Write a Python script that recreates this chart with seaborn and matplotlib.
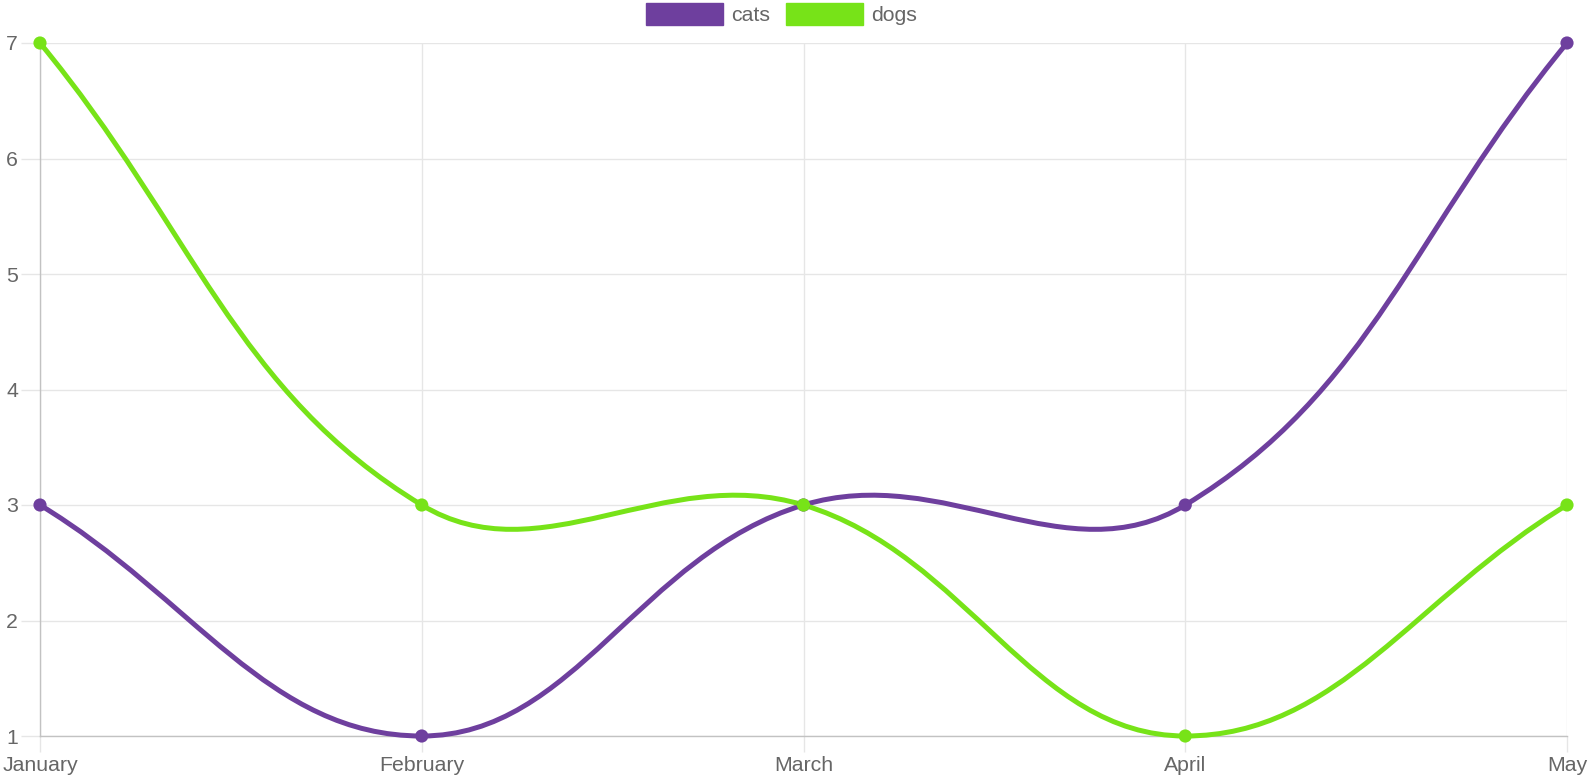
import numpy as np
import pandas as pd
import matplotlib
matplotlib.use("Agg")
import matplotlib.pyplot as plt
import seaborn as sns
from matplotlib.path import Path
from matplotlib.patches import PathPatch, Patch

# chart data
months = ["January", "February", "March", "April", "May"]
cats = [3, 1, 3, 3, 7]
dogs = [7, 3, 3, 1, 3]
y_ticks = [1, 2, 3, 4, 5, 6, 7]

PURPLE = "#6E3F9E"
GREEN = "#77E318"
GRID = "#e6e6e6"
AXIS = "#c2c2c2"
TEXT = "#666666"
TENSION = 0.4

W, H = 1592, 778


def spline_path(ax, xs, ys, tension=TENSION):
    """Bezier path through the points, control points computed in pixel space."""
    pts = ax.transData.transform(np.column_stack([xs, ys]).astype(float))
    bb = ax.bbox
    n = len(pts)
    c_prev, c_next = [], []
    for i in range(n):
        prev = pts[max(i - 1, 0)]
        cur = pts[i]
        nxt = pts[min(i + 1, n - 1)]
        d01 = np.hypot(*(cur - prev))
        d12 = np.hypot(*(nxt - cur))
        tot = d01 + d12
        s01 = d01 / tot if tot else 0
        s12 = d12 / tot if tot else 0
        cp = cur - tension * s01 * (nxt - prev)
        cn = cur + tension * s12 * (nxt - prev)
        cp = np.clip(cp, [bb.x0, bb.y0], [bb.x1, bb.y1])
        cn = np.clip(cn, [bb.x0, bb.y0], [bb.x1, bb.y1])
        c_prev.append(cp)
        c_next.append(cn)
    verts = [pts[0]]
    codes = [Path.MOVETO]
    for i in range(1, n):
        verts += [c_next[i - 1], c_prev[i], pts[i]]
        codes += [Path.CURVE4] * 3
    verts = ax.transData.inverted().transform(np.array(verts))
    return Path(verts, codes)


sns.set_theme(style="white")
plt.rcParams['font.family'] = ['Liberation Sans', 'DejaVu Sans']

fig = plt.figure(figsize=(W / 100, H / 100), dpi=100)
ax = fig.add_axes([40 / W, 1 - 736 / H, 1527 / W, 693 / H])

x = np.arange(len(months))
ax.set_xlim(0, len(months) - 1)
ax.set_ylim(min(y_ticks), max(y_ticks))

df = pd.DataFrame({
    "x": np.concatenate([x, x]),
    "value": cats + dogs,
    "animal": ["cats"] * len(cats) + ["dogs"] * len(dogs),
})
palette = {"cats": PURPLE, "dogs": GREEN}

for name, vals in [("cats", cats), ("dogs", dogs)]:
    path = spline_path(ax, x, vals)
    patch = PathPatch(path, facecolor="none", edgecolor=palette[name], lw=3.6,
                      capstyle="round", joinstyle="round", zorder=3, clip_on=False)
    ax.add_patch(patch)

sns.scatterplot(data=df, x="x", y="value", hue="animal", palette=palette, s=90,
                linewidth=0, legend=False, ax=ax, zorder=4, clip_on=False)

ax.set_xticks(x)
ax.set_xticklabels(months)
ax.set_yticks(y_ticks)
ax.set_xlabel("")
ax.set_ylabel("")
ax.grid(True, color=GRID, lw=1)
ax.set_axisbelow(True)
for s in ["top", "right"]:
    ax.spines[s].set_visible(False)
for s in ["left", "bottom"]:
    ax.spines[s].set_color(AXIS)
    ax.spines[s].set_linewidth(1)
    ax.spines[s].set_zorder(2)

ax.tick_params(axis="y", length=13.7, width=1, color=GRID, pad=2,
               labelsize=15.3, labelcolor=TEXT, left=True)
ax.tick_params(axis="x", length=11.5, width=1, color=GRID, pad=3,
               labelsize=15.3, labelcolor=TEXT, bottom=True)
ax.xaxis.get_major_ticks()[0].tick1line.set_color(AXIS)
ax.yaxis.get_major_ticks()[0].tick1line.set_color(AXIS)

handles = [Patch(facecolor=palette[k], edgecolor=palette[k], label=k) for k in ["cats", "dogs"]]
fig.legend(handles=handles, loc="center", bbox_to_anchor=(781.5 / W, 1 - 14 / H),
           ncol=2, frameon=False, fontsize=15.3, labelcolor=TEXT,
           handlelength=3.62, handleheight=1.24, handletextpad=0.38,
           columnspacing=0.76, borderpad=0, borderaxespad=0)

fig.savefig("out.png", dpi=100)
